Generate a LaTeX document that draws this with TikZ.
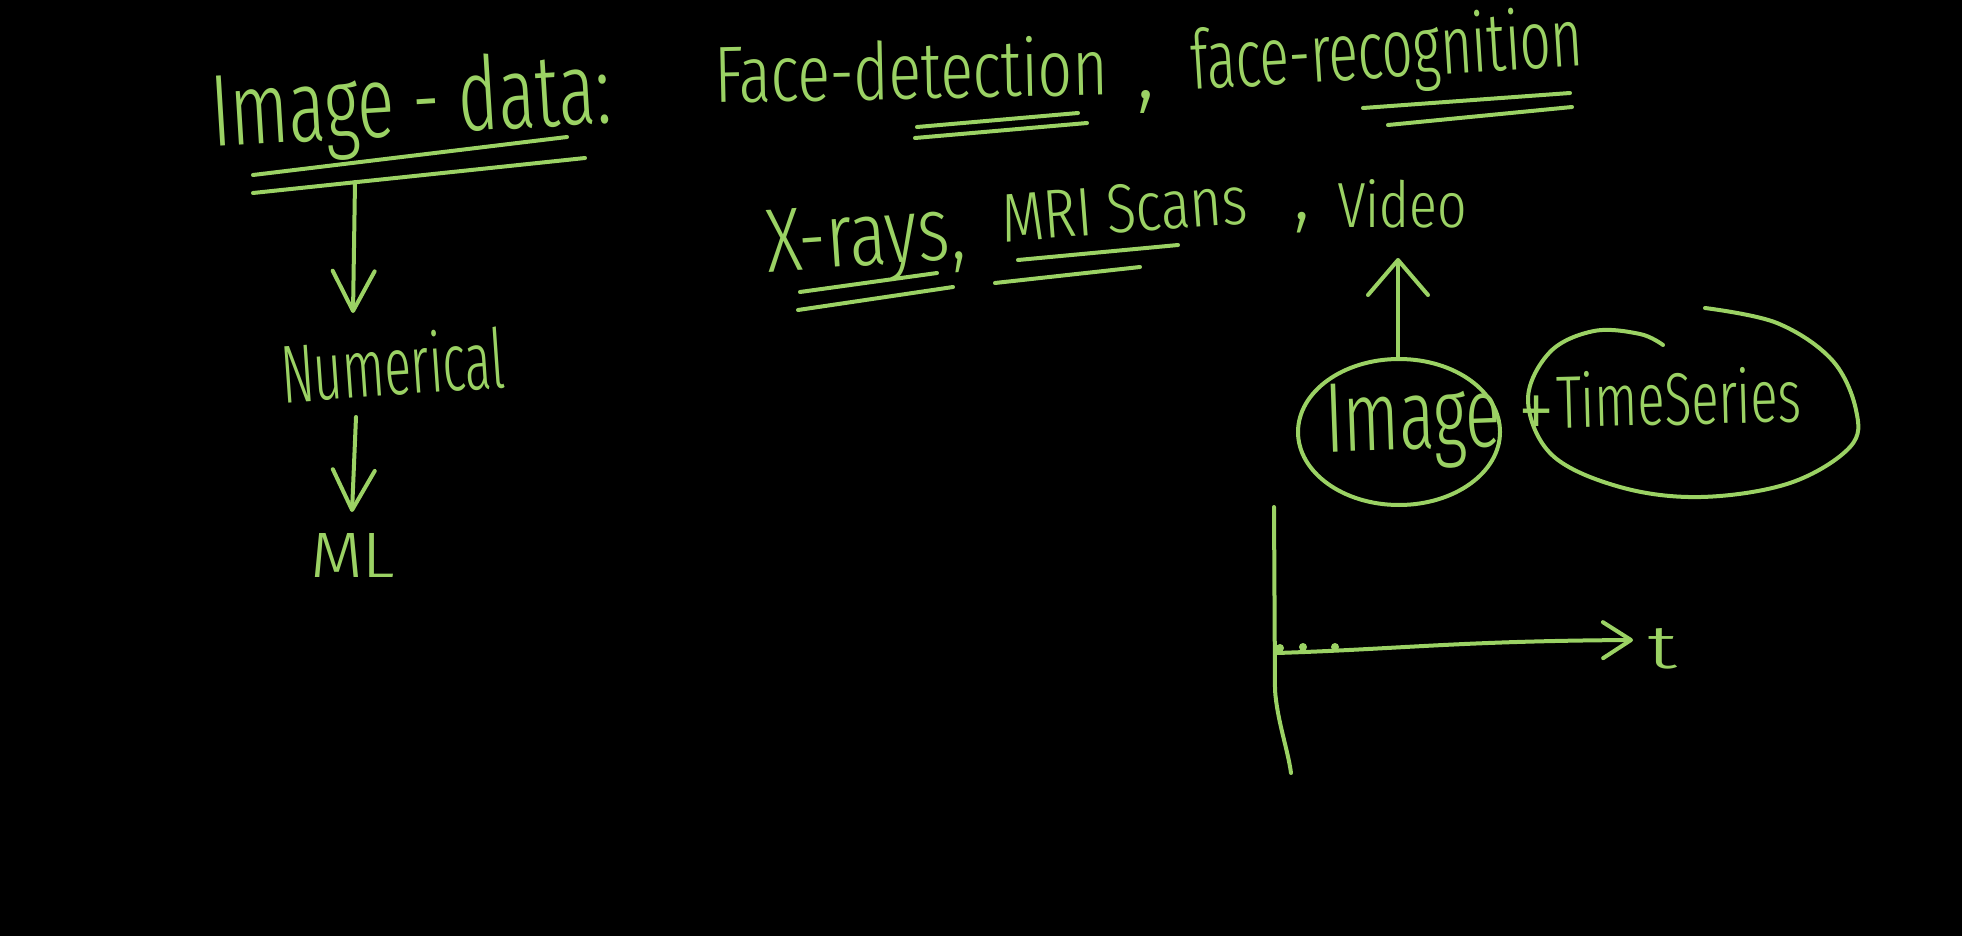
\documentclass[tikz,border=0pt]{standalone}
\usepackage{fontspec}
\usepackage{graphicx}
\IfFontExistsTF{Fira Sans Extra Condensed Light}{\setmainfont{Fira Sans Extra Condensed Light}}{%
  \IfFontExistsTF{Fira Sans Condensed Light}{\setmainfont{Fira Sans Condensed Light}}{%
    \IfFontExistsTF{Lato Light}{\setmainfont{Lato Light}}{\setmainfont{Liberation Sans}}}}
\usetikzlibrary{arrows.meta}
\definecolor{chalk}{HTML}{9BD264}
\newcommand{\hw}[3]{\resizebox{#1pt}{#2pt}{#3}}
\begin{document}
\begin{tikzpicture}[x=1pt,y=-1pt,
  ink/.style={draw=chalk, line width=4pt, line cap=round, line join=round},
  txt/.style={text=chalk, inner sep=0pt, outer sep=0pt, anchor=base west},
  arr/.style={ink, -{Straight Barb[length=40pt,width=42pt,round]}},
  uparr/.style={ink, -{Straight Barb[length=35pt,width=60pt,round]}},
  axarr/.style={ink, -{Straight Barb[length=28pt,width=36pt,round]}},
  dotmark/.style={fill=chalk, draw=none},
]
\fill[black] (0,0) rectangle (1962,936);
\useasboundingbox (0,0) rectangle (1962,936);

% texts
\node[txt, rotate=3.5] (imgdata) at (213,147) {\hw{400}{76}{Image - data:}};
\node[txt, rotate=1.2] (facedet) at (715,103) {\hw{393}{60}{Face-detection}};
\node[txt] (comma1) at (1136,99) {\fontsize{100}{100}\selectfont ,};
\node[txt, rotate=3.6] (facerec) at (1192,90) {\hw{393}{62}{face-recognition}};
\node[txt, rotate=4] (xrays) at (768,272) {\hw{199}{62}{X-rays,}};
\node[txt, rotate=4.4] (mri) at (1003,242) {\hw{247}{48}{MRI Scans}};
\node[txt] (comma2) at (1293,220) {\fontsize{90}{90}\selectfont ,};
\node[txt] (video) at (1337,228) {\hw{130}{48}{Video}};
\node[txt, rotate=4] (numerical) at (283,403) {\hw{224}{62}{Numerical}};
\node[txt] (ml) at (310,577) {\hw{85}{44}{ML}};
\node[txt, rotate=2] (image) at (1326,452) {\hw{176}{68}{Image}};
\node[text=chalk, inner sep=0pt] (plus) at (1536,418) {\resizebox{36pt}{!}{+}};
\node[txt, rotate=1.5] (ts) at (1557,428) {\hw{245}{56}{TimeSeries}};
\node[txt] (tlab) at (1647,668) {\hw{30}{40}{t}};

% underlines
\draw[ink] (253,175) -- (567,137);
\draw[ink] (253,193) -- (585,158);
\draw[ink] (917,127) -- (1078,113);
\draw[ink] (915,138) -- (1087,123);
\draw[ink] (1363,108) -- (1570,93);
\draw[ink] (1388,125) -- (1572,107);
\draw[ink] (800,292) -- (937,273);
\draw[ink] (798,310) -- (953,287);
\draw[ink] (1018,260) -- (1178,245);
\draw[ink] (995,283) -- (1140,267);

% arrows
\coordinate (a1s) at (355,182);
\coordinate (a1e) at (353,313);
\coordinate (a2s) at (356,417);
\coordinate (a2e) at (352,512);
\coordinate (a3s) at (1398,359);
\coordinate (a3e) at (1398,258);
\draw[arr] (a1s) -- (a1e);
\draw[arr] (a2s) -- (a2e);
\draw[uparr] (a3s) -- (a3e);

% circles
\draw[ink] (1399,432) ellipse [x radius=101, y radius=73];
\draw[ink] plot[smooth, tension=0.6] coordinates {(1663,345) (1640,334) (1594,331) (1550,352) (1528,400) (1552,455) (1620,487) (1701,497) (1790,483) (1850,447) (1856,410) (1832,360) (1777,323) (1705,308)};

% axes
\coordinate (yt) at (1274,507);
\coordinate (yb) at (1291,773);
\coordinate (xo) at (1277,653);
\coordinate (xe) at (1633,640);
\draw[ink] (yt) -- (1275,690) .. controls (1277,720) and (1288,750) .. (yb);
\draw[axarr] (xo) .. controls (1400,649) and (1460,641) .. (xe);
\fill[dotmark] (1280,648) circle (4);
\fill[dotmark] (1303,647) circle (4);
\fill[dotmark] (1335,647) circle (4);
\end{tikzpicture}
\end{document}
